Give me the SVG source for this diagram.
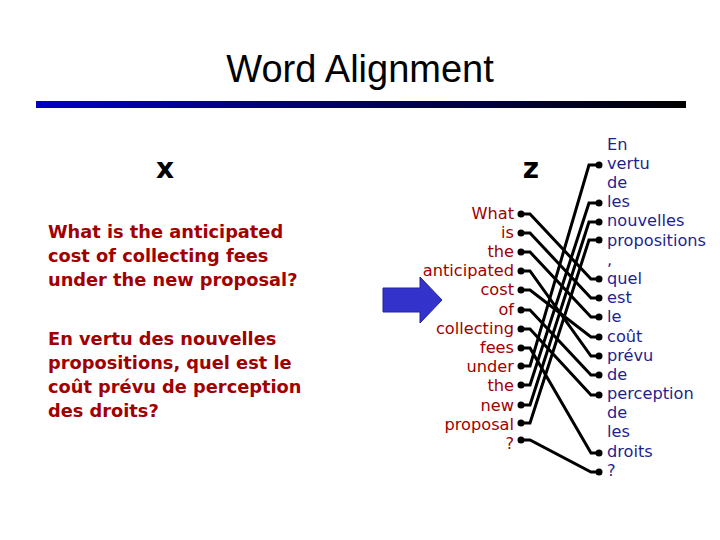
<svg xmlns="http://www.w3.org/2000/svg" width="720" height="540" viewBox="0 0 720 540">
<style>
.t{font-family:"Liberation Sans",Arial,sans-serif}
.s{font-family:"DejaVu Sans",Verdana,sans-serif;font-weight:bold;font-size:17.8px;fill:#a00000}
.e{font-family:"DejaVu Sans",Verdana,sans-serif;font-size:16.2px;fill:#a00000;text-anchor:end}
.f{font-family:"DejaVu Sans",Verdana,sans-serif;font-size:16.2px;fill:#1f1f8f}
.d{fill:#000}
.c path{fill:none;stroke:#000;stroke-width:3}
</style>
<defs><linearGradient id="g" x1="0" x2="1"><stop offset="0" stop-color="#0000c0"/><stop offset="1" stop-color="#000"/></linearGradient></defs>
<text class="t" x="360" y="82" font-size="38" text-anchor="middle">Word Alignment</text>
<rect x="36" y="101" width="650" height="7" fill="url(#g)"/>
<text x="165" y="178" font-family="DejaVu Sans,sans-serif" font-weight="bold" font-size="28" text-anchor="middle">x</text>
<text x="531" y="178" font-family="DejaVu Sans,sans-serif" font-weight="bold" font-size="28" text-anchor="middle">z</text>
<g id="english"><text class="s" x="48" y="238">What is the anticipated</text><text class="s" x="48" y="262">cost of collecting fees</text><text class="s" x="48" y="286">under the new proposal?</text></g>
<g id="french"><text class="s" x="48" y="345">En vertu des nouvelles</text><text class="s" x="48" y="369">propositions, quel est le</text><text class="s" x="48" y="393">coût prévu de perception</text><text class="s" x="48" y="417">des droits?</text></g>
<g id="arrow"><path d="M383 288H420V277L442 300L420 323V312H383Z" fill="#3333cc" stroke="#222299"/></g>
<g id="zsrc">
<text class="e" x="514" y="219">What</text><text class="e" x="514" y="238">is</text><text class="e" x="514" y="257">the</text><text class="e" x="514" y="276">anticipated</text><text class="e" x="514" y="295">cost</text><text class="e" x="514" y="315">of</text><text class="e" x="514" y="334">collecting</text><text class="e" x="514" y="353">fees</text><text class="e" x="514" y="372">under</text><text class="e" x="514" y="391">the</text><text class="e" x="514" y="411">new</text><text class="e" x="514" y="430">proposal</text><text class="e" x="514" y="449">?</text>
<g class="d"><circle cx="521" cy="214" r="3.5"/><circle cx="521" cy="233" r="3.5"/><circle cx="521" cy="252" r="3.5"/><circle cx="521" cy="271" r="3.5"/><circle cx="521" cy="290" r="3.5"/><circle cx="521" cy="310" r="3.5"/><circle cx="521" cy="329" r="3.5"/><circle cx="521" cy="348" r="3.5"/><circle cx="521" cy="366" r="3.5"/><circle cx="521" cy="385" r="3.5"/><circle cx="521" cy="405" r="3.5"/><circle cx="521" cy="423" r="3.5"/><circle cx="521" cy="440" r="3.5"/></g>
</g>
<g id="ztgt">
<text class="f" x="607" y="150">En</text><text class="f" x="607" y="169">vertu</text><text class="f" x="607" y="188">de</text><text class="f" x="607" y="207">les</text><text class="f" x="607" y="226">nouvelles</text><text class="f" x="607" y="246">propositions</text><text class="f" x="607" y="265">,</text><text class="f" x="607" y="284">quel</text><text class="f" x="607" y="303">est</text><text class="f" x="607" y="322">le</text><text class="f" x="607" y="342">coût</text><text class="f" x="607" y="361">prévu</text><text class="f" x="607" y="380">de</text><text class="f" x="607" y="399">perception</text><text class="f" x="607" y="418">de</text><text class="f" x="607" y="437">les</text><text class="f" x="607" y="457">droits</text><text class="f" x="607" y="476">?</text>
<g class="d"><circle cx="599" cy="165" r="3.5"/><circle cx="599" cy="203" r="3.5"/><circle cx="599" cy="222" r="3.5"/><circle cx="599" cy="240" r="3.5"/><circle cx="599" cy="279" r="3.5"/><circle cx="599" cy="298" r="3.5"/><circle cx="599" cy="317" r="3.5"/><circle cx="599" cy="337" r="3.5"/><circle cx="599" cy="356" r="3.5"/><circle cx="599" cy="375" r="3.5"/><circle cx="599" cy="395" r="3.5"/><circle cx="599" cy="453" r="3.5"/><circle cx="599" cy="472" r="3.5"/></g>
</g>
<g class="c" id="connectors">
<path d="M521 214H530L591 279H599"/>
<path d="M521 233H530L591 298H599"/>
<path d="M521 252H530L591 317H599"/>
<path d="M521 271H530L591 356H599"/>
<path d="M521 290H530L591 337H599"/>
<path d="M521 310H530L591 375H599"/>
<path d="M521 329H530L591 395H599"/>
<path d="M521 348H530L591 453H599"/>
<path d="M521 366H530L589 165H599"/>
<path d="M521 385H530L589 203H599"/>
<path d="M521 405H530L589 222H599"/>
<path d="M521 423H530L589 240H599"/>
<path d="M521 440H530L591 472H599"/>
</g>
</svg>
